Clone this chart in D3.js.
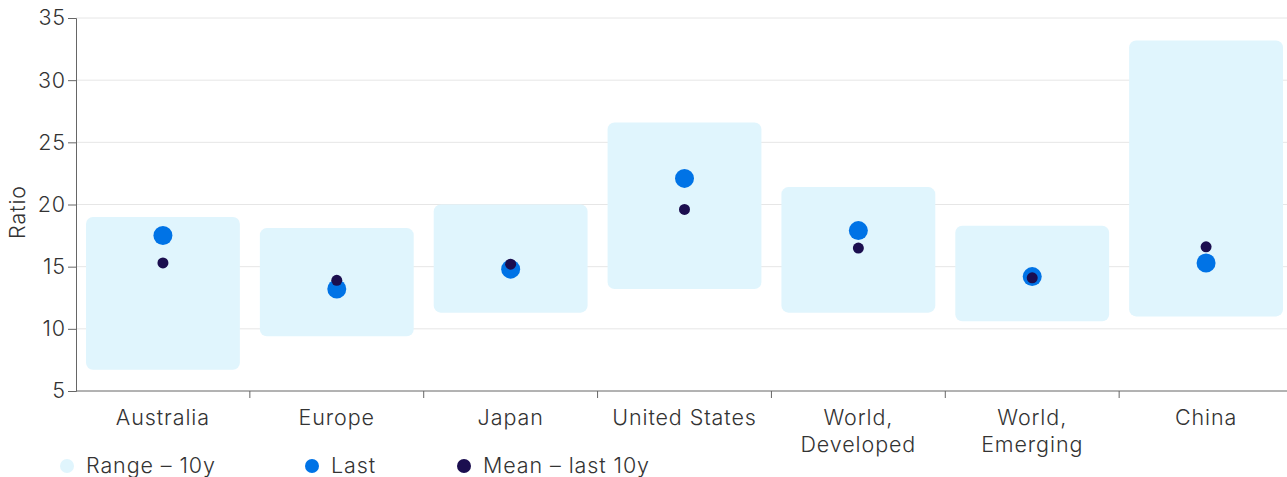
<!DOCTYPE html>
<html>
<head>
<meta charset="utf-8">
<script src="https://cdn.jsdelivr.net/npm/d3@7"></script>
<style>
  html, body { margin: 0; padding: 0; background: #fff; }
  svg { display: block; font-family: Inter, "Liberation Sans", sans-serif; }
</style>
</head>
<body>
<svg id="chart" width="1287" height="477"></svg>
<script>
// Price/earnings ratios by market
const categories = ["Australia", "Europe", "Japan", "United States", "World, Developed", "World, Emerging", "China"];
const rangeLow  = [6.7, 9.4, 11.3, 13.2, 11.3, 10.6, 11.0];
const rangeHigh = [19.0, 18.1, 20.0, 26.6, 21.4, 18.3, 33.2];
const lastValue = [17.5, 13.2, 14.8, 22.1, 17.9, 14.2, 15.3];
const meanValue = [15.3, 13.9, 15.2, 19.6, 16.5, 14.1, 16.6];
const yTicks = [5, 10, 15, 20, 25, 30, 35];
const legendItems = ["Range – 10y", "Last", "Mean – last 10y"];

const colors = { range: "#e0f5fd", last: "#0073e6", mean: "#1b0e4f" };
const fontSize = "21.5px";
const fontWeight = 300;
const tracking = "0.9px";

const svg = d3.select("#chart");
const x = d3.scaleBand().domain(categories).range([76, 1293]).paddingInner(0).paddingOuter(0);
const y = d3.scaleLinear().domain([5, 35]).range([391, 18]);

function textStyle(sel) {
  return sel.attr("fill", "#333")
    .style("font-family", "Inter, 'Liberation Sans', sans-serif")
    .style("font-size", fontSize)
    .style("font-weight", fontWeight)
    .style("letter-spacing", tracking);
}

// gridlines
svg.append("g")
  .selectAll("line")
  .data(yTicks.filter(t => t > 5))
  .join("line")
  .attr("x1", 76).attr("x2", 1287)
  .attr("y1", d => y(d)).attr("y2", d => y(d))
  .attr("stroke", "#e6e6e6").attr("stroke-width", 1);

// range boxes
const boxPad = 10;
svg.append("g")
  .selectAll("rect")
  .data(categories)
  .join("rect")
  .attr("x", d => x(d) + boxPad)
  .attr("width", x.bandwidth() - boxPad * 2)
  .attr("y", (d, i) => y(rangeHigh[i]))
  .attr("height", (d, i) => y(rangeLow[i]) - y(rangeHigh[i]))
  .attr("rx", 7).attr("ry", 7)
  .attr("fill", colors.range);

// last values
svg.append("g")
  .selectAll("circle")
  .data(categories)
  .join("circle")
  .attr("cx", d => x(d) + x.bandwidth() / 2)
  .attr("cy", (d, i) => y(lastValue[i]))
  .attr("r", 9.5)
  .attr("fill", colors.last);

// 10-year means
svg.append("g")
  .selectAll("circle")
  .data(categories)
  .join("circle")
  .attr("cx", d => x(d) + x.bandwidth() / 2)
  .attr("cy", (d, i) => y(meanValue[i]))
  .attr("r", 5.5)
  .attr("fill", colors.mean);

// y axis
const yAxis = svg.append("g")
  .attr("transform", "translate(76,0)")
  .call(d3.axisLeft(y).tickValues(yTicks).tickSize(8).tickPadding(2));
yAxis.select(".domain").attr("stroke", "#666");
yAxis.selectAll(".tick line").attr("stroke", "#666");
textStyle(yAxis.selectAll(".tick text"));

// x axis
const xAxis = svg.append("g")
  .attr("transform", "translate(0,391)")
  .call(d3.axisBottom(x).tickSize(0).tickFormat(""));
xAxis.select(".domain").attr("stroke", "#666").attr("d", "M76,0H1287");
// category separators
svg.append("g")
  .selectAll("line")
  .data(categories.slice(1))
  .join("line")
  .attr("x1", d => x(d)).attr("x2", d => x(d))
  .attr("y1", 391).attr("y2", 398)
  .attr("stroke", "#666");

// category labels, wrapped at commas
svg.append("g")
  .selectAll("text")
  .data(categories)
  .join("text")
  .attr("x", d => x(d) + x.bandwidth() / 2)
  .attr("y", 425)
  .attr("text-anchor", "middle")
  .call(textStyle)
  .each(function(d) {
    const parts = d.includes(",") ? [d.split(",")[0] + ",", d.split(",")[1].trim()] : [d];
    const t = d3.select(this);
    parts.forEach((p, i) => t.append("tspan").attr("x", x(d) + x.bandwidth() / 2).attr("dy", i === 0 ? 0 : 27).text(p));
  });

// y axis title
svg.append("text")
  .attr("transform", "translate(25,212) rotate(-90)")
  .attr("text-anchor", "middle")
  .call(textStyle)
  .text("Ratio");

// legend
const legendX = [67, 312, 464];
const legendColors = [colors.range, colors.last, colors.mean];
const legend = svg.append("g");
legendItems.forEach((label, i) => {
  legend.append("circle").attr("cx", legendX[i]).attr("cy", 466).attr("r", 7).attr("fill", legendColors[i]);
  legend.append("text").attr("x", legendX[i] + 19).attr("y", 473)
    .call(textStyle).text(label);
});
</script>
</body>
</html>
